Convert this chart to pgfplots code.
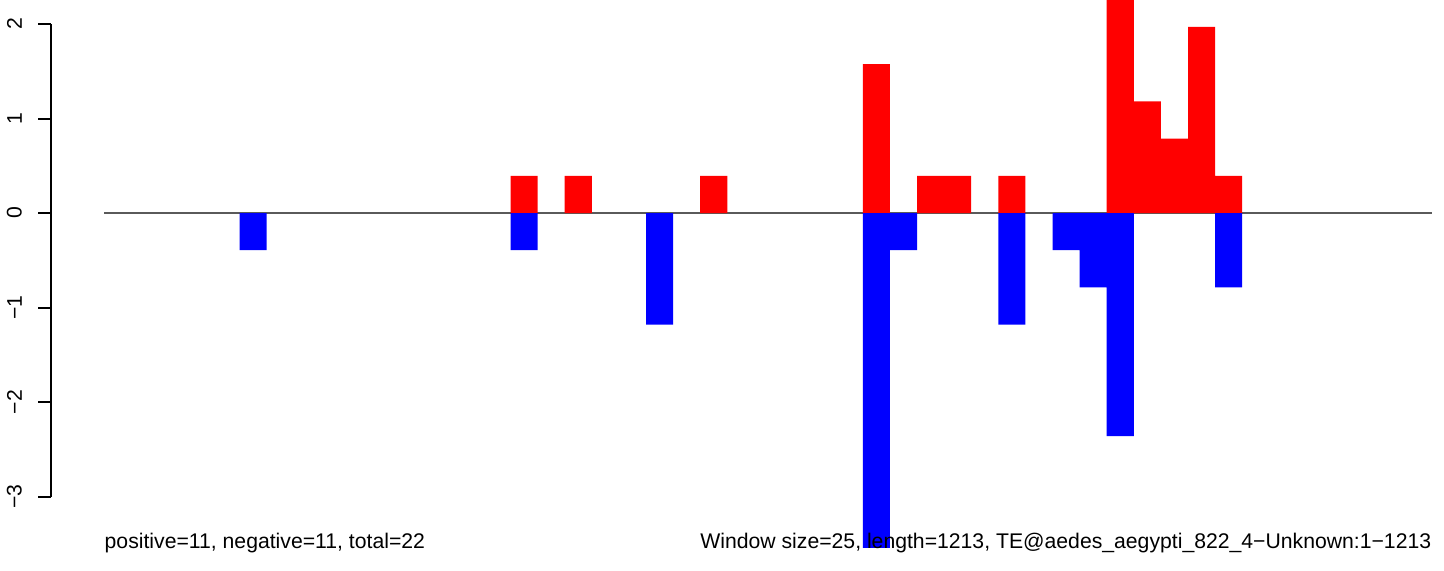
\documentclass[border=0pt]{standalone}
\usepackage{pgfplots}
\pgfplotsset{compat=1.18}
\usepackage{fontspec}
\setmainfont{Liberation Sans}
\definecolor{basegray}{RGB}{90,90,90}
\begin{document}
\fontsize{6.03pt}{7pt}\selectfont
\begin{tikzpicture}
\begin{axis}[
  x=2.71mm, y=9.45mm,
  xmin=-1.956, xmax=49.446, ymin=-3.788, ymax=2.254,
  axis line style={draw=none},
  clip mode=individual,
  xtick=\empty,
  ytick={-3,-2,-1,0,1,2},
  yticklabels={−3,−2,−1,0,1,2},
  ytick pos=left,
  tick align=outside,
  major tick length=1.3mm,
  tick style={black, line width=0.2mm},
  yticklabel style={rotate=90, anchor=south, inner sep=0pt, font=\fontsize{6.03pt}{7pt}\selectfont},
  yticklabel shift=1.55mm,
]
\coordinate (BL) at (axis cs:-3.838,-3.788);
\coordinate (TR) at (axis cs:49.446,2.254);
\draw[black, line width=0.2mm] (axis cs:-1.956,-3) -- (axis cs:-1.956,2);
\addplot[basegray, line width=0.15mm] coordinates {(0,0) (49,0)};
\addplot[ybar, bar width=1, bar shift=0pt, fill={rgb,255:red,255;green,0;blue,0}, draw=none] coordinates {
(15.5,0.3937) (17.5,0.3937) (22.5,0.3937) (28.5,1.5748) (30.5,0.3937) (31.5,0.3937)
(33.5,0.3937) (37.5,2.3622) (38.5,1.1811) (39.5,0.7874) (40.5,1.9685) (41.5,0.3937)
};
\addplot[ybar, bar width=1, bar shift=0pt, fill={rgb,255:red,0;green,0;blue,255}, draw=none] coordinates {
(5.5,-0.3937) (15.5,-0.3937) (20.5,-1.1811) (28.5,-3.5433) (29.5,-0.3937)
(33.5,-1.1811) (35.5,-0.3937) (36.5,-0.7874) (37.5,-2.3622) (41.5,-0.7874)
};
\node[anchor=base west, inner sep=0pt] at (axis cs:0,-3.545) {positive=11, negative=11, total=22};
\node[anchor=base east, inner sep=0pt] at (axis cs:49,-3.545) {Window size=25, length=1213, TE@aedes\_aegypti\_822\_4−Unknown:1−1213};
\end{axis}
\pgfresetboundingbox
\path[use as bounding box] (BL) rectangle (TR);
\end{tikzpicture}
\end{document}
